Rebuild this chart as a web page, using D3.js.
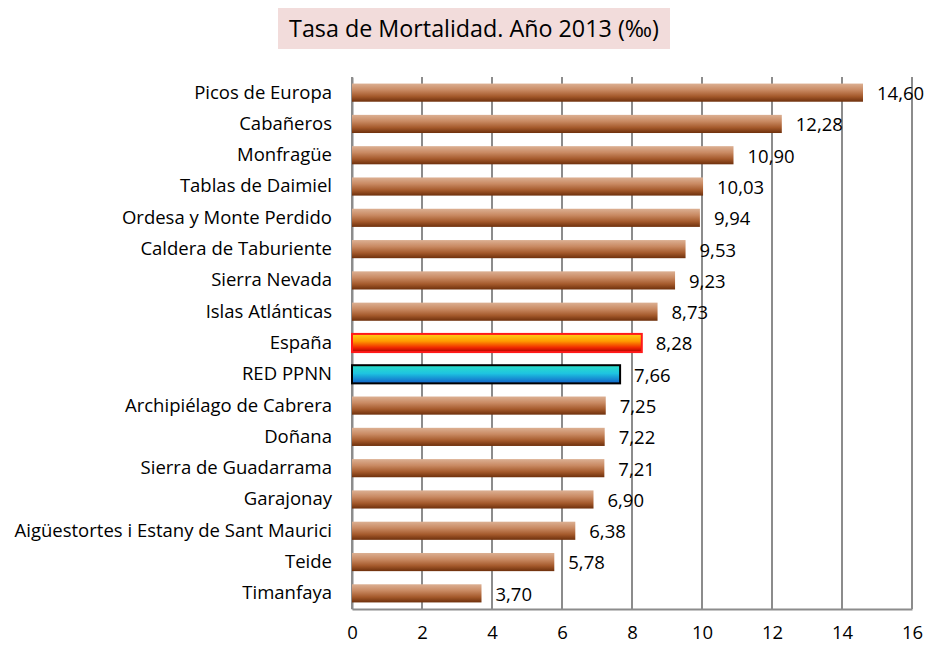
<!DOCTYPE html>
<html>
<head>
<meta charset="utf-8">
<script src="https://cdn.jsdelivr.net/npm/d3@7"></script>
<style>
html,body{margin:0;padding:0;background:#fff;overflow:hidden;}
svg{display:block;}
text{font-family:"Open Sans",sans-serif;}
</style>
</head>
<body>
<div id="chart"></div>
<script>
// tamaño y márgenes
const width=931;
const height=646;
const margin={left:352,right:19,top:77,bottom:37};
const innerWidth=width-margin.left-margin.right;
const innerHeight=height-margin.top-margin.bottom;
const fontSize=18.5;

// datos
const parques=["Picos de Europa","Cabañeros","Monfragüe","Tablas de Daimiel","Ordesa y Monte Perdido",
  "Caldera de Taburiente","Sierra Nevada","Islas Atlánticas","España","RED PPNN",
  "Archipiélago de Cabrera","Doñana","Sierra de Guadarrama","Garajonay",
  "Aigüestortes i Estany de Sant Maurici","Teide","Timanfaya"];
const tasas=[14.60,12.28,10.90,10.03,9.94,9.53,9.23,8.73,8.28,7.66,7.25,7.22,7.21,6.90,6.38,5.78,3.70];
const xTicks=[0,2,4,6,8,10,12,14,16];

const data=parques.map((d,i)=>({name:d,value:tasas[i]}));

const svg=d3.select("#chart").append("svg").attr("width",width).attr("height",height);

// degradados
const defs=svg.append("defs");
function grad(id,stops){
  const lg=defs.append("linearGradient").attr("id",id).attr("x1",0).attr("y1",0).attr("x2",0).attr("y2",1);
  stops.forEach(s=>lg.append("stop").attr("offset",s[0]).attr("stop-color",s[1]));
}
grad("gBrown",[[0,"#dcb093"],[0.35,"#c98a63"],[0.7,"#a55a2c"],[1,"#6e300c"]]);
grad("gSpain",[[0,"#ffd21a"],[0.4,"#ff9a00"],[0.75,"#f02a00"],[1,"#b00000"]]);
grad("gRed",[[0,"#2ee0c8"],[0.45,"#1ec4e0"],[1,"#1060c8"]]);

// título
const titleG=svg.append("g");
titleG.append("rect").attr("x",278).attr("y",8).attr("width",392).attr("height",41).attr("fill","#f2dcdb");
titleG.append("text").attr("x",474).attr("y",37).attr("text-anchor","middle")
  .attr("font-size",23.3).attr("fill","#000").text("Tasa de Mortalidad. Año 2013 (‰)");

const g=svg.append("g").attr("transform",`translate(${margin.left},${margin.top})`);

const xScale=d3.scaleLinear().domain([0,16]).range([0,innerWidth]);
const yScale=d3.scaleBand().domain(parques).range([0,innerHeight]).paddingInner(0.42).paddingOuter(0.21);

// rejilla
g.append("g").selectAll("line").data(xTicks).join("line")
  .attr("x1",d=>xScale(d)).attr("x2",d=>xScale(d))
  .attr("y1",0).attr("y2",innerHeight)
  .attr("stroke","#8c8c8c").attr("stroke-width",2);

// eje x
const xAxis=d3.axisBottom(xScale).tickValues(xTicks).tickSize(0).tickPadding(17).tickFormat(d3.format("d"));
const xAxisG=g.append("g").attr("transform",`translate(0,${innerHeight})`).call(xAxis);
xAxisG.select(".domain").attr("stroke","#8c8c8c").attr("stroke-width",2);
xAxisG.selectAll("text").attr("font-size",fontSize).attr("fill","#000").attr("font-family","'Open Sans',sans-serif");

// eje y
const yAxis=d3.axisLeft(yScale).tickSize(0).tickPadding(20);
const yAxisG=g.append("g").call(yAxis);
yAxisG.select(".domain").attr("stroke","#8c8c8c").attr("stroke-width",2);
yAxisG.selectAll("text").attr("font-size",fontSize).attr("fill","#000").attr("font-family","'Open Sans',sans-serif");

// barras
function fillOf(d){
  if(d.name==="España") return "url(#gSpain)";
  if(d.name==="RED PPNN") return "url(#gRed)";
  return "url(#gBrown)";
}
function strokeOf(d){
  if(d.name==="España") return "#ff1a1a";
  if(d.name==="RED PPNN") return "#000";
  return "none";
}
g.append("g").selectAll("rect").data(data).join("rect")
  .attr("x",0)
  .attr("y",d=>yScale(d.name))
  .attr("width",d=>xScale(d.value))
  .attr("height",yScale.bandwidth())
  .attr("fill",fillOf)
  .attr("stroke",strokeOf)
  .attr("stroke-width",2);

// valores
const fmt=v=>v.toFixed(2).replace(".",",");
g.append("g").selectAll("text").data(data).join("text")
  .attr("x",d=>xScale(d.value)+14)
  .attr("y",d=>yScale(d.name)+yScale.bandwidth()/2)
  .attr("dy","0.4em")
  .attr("font-size",fontSize)
  .attr("fill","#000")
  .text(d=>fmt(d.value));
</script>
</body>
</html>
